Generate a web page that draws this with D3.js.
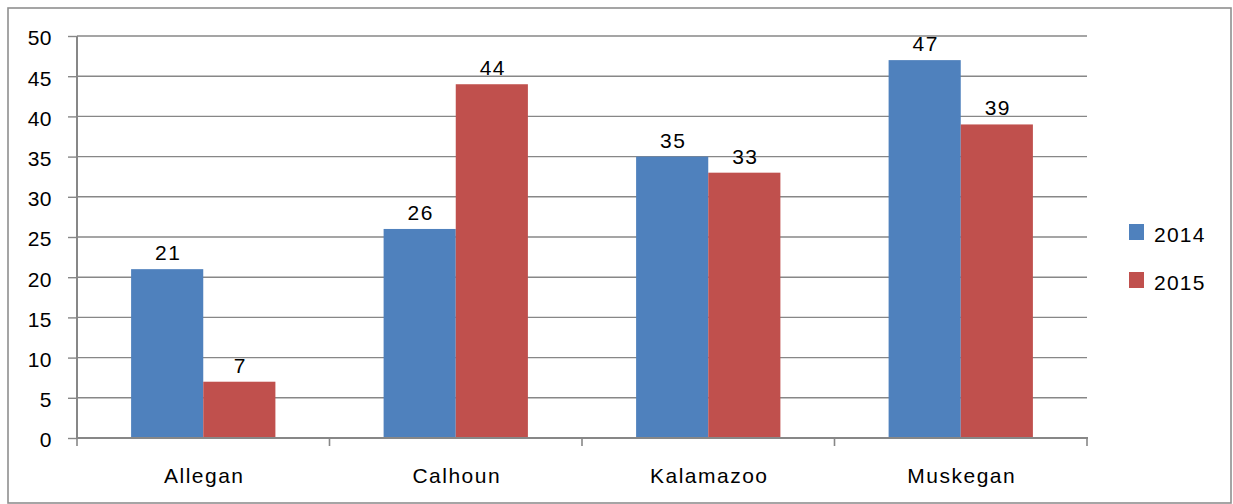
<!DOCTYPE html>
<html><head><meta charset="utf-8">
<script src="https://cdn.jsdelivr.net/npm/d3@7"></script>
<style>body{margin:0;background:#fff}svg{display:block}text{font-family:"Liberation Sans","DejaVu Sans",sans-serif;fill:#000}</style>
</head><body>
<script>
const categories = ["Allegan","Calhoun","Kalamazoo","Muskegan"];
const series = ["2014","2015"];
const values2014 = [21,26,35,47];
const values2015 = [7,44,33,39];
const yTicks = [0,5,10,15,20,25,30,35,40,45,50];
const colors = ["#4F81BD","#C0504D"];

(function(){
const W=1233,H=504;
const svg=d3.select("body").append("svg").attr("width",W).attr("height",H);
svg.append("rect").attr("x",8).attr("y",8).attr("width",1223).attr("height",495).attr("fill","#fff").attr("stroke","#8f8f8f").attr("stroke-width",1.6);

const pL=77,pR=1087,pT=36,pB=438;
const x=d3.scaleBand().domain(categories).range([pL,pR]).paddingInner(0).paddingOuter(0);
const y=d3.scaleLinear().domain([0,50]).range([pB,pT]);
const gridColor="#878787";

svg.append("g").selectAll("line").data(yTicks.filter(d=>d>0)).join("line")
  .attr("x1",pL).attr("x2",pR).attr("y1",d=>y(d)).attr("y2",d=>y(d))
  .attr("stroke",gridColor).attr("stroke-width",1.4);

const ya=svg.append("g").attr("transform",`translate(${pL},0)`)
  .call(d3.axisLeft(y).tickValues(yTicks).tickSize(9).tickPadding(16));
ya.select(".domain").attr("stroke",gridColor).attr("stroke-width",2).attr("d",`M0,${pT}V${pB}`);
ya.selectAll(".tick line").attr("stroke",gridColor).attr("stroke-width",1.4);
ya.selectAll(".tick text").attr("font-size",21).attr("font-family","Liberation Sans").attr("fill","#000").attr("letter-spacing",0.5).attr("dy","0.42em");

const gw = x.bandwidth();
const barW = gw/(2+1.5);
const gap = (gw-2*barW)/2;
const data = categories.map((c,i)=>({c, v:[values2014[i],values2015[i]]}));
const g=svg.append("g");
data.forEach(d=>{
  d.v.forEach((v,j)=>{
    const bx = x(d.c)+gap+j*barW;
    g.append("rect").attr("x",bx).attr("y",y(v)).attr("width",barW).attr("height",y(0)-y(v)).attr("fill",colors[j]);
    g.append("text").attr("x",bx+barW/2+1).attr("y",y(v)-9).attr("text-anchor","middle").attr("font-size",21).attr("letter-spacing",1.5).text(v);
  });
});

const xa=svg.append("g").attr("transform",`translate(0,${pB})`);
xa.append("line").attr("x1",pL-1).attr("x2",pR+1).attr("stroke",gridColor).attr("stroke-width",2);
const xt=[...categories.map(c=>x(c)), pR];
xa.selectAll("line.t").data(xt).join("line").attr("class","t").attr("x1",d=>d).attr("x2",d=>d).attr("y1",0).attr("y2",8).attr("stroke",gridColor).attr("stroke-width",1.6);
xa.selectAll("text.c").data(categories).join("text").attr("class","c").attr("x",d=>x(d)+gw/2+1).attr("y",45).attr("text-anchor","middle").attr("font-size",21).attr("letter-spacing",1.5).text(d=>d);

const lg=svg.append("g");
series.forEach((s,i)=>{
  lg.append("rect").attr("x",1129).attr("y",224+i*48).attr("width",15).attr("height",16).attr("fill",colors[i]);
  lg.append("text").attr("x",1154).attr("y",242+i*48).attr("font-size",21).attr("letter-spacing",1.2).text(s);
});
})();
</script>
</body></html>
